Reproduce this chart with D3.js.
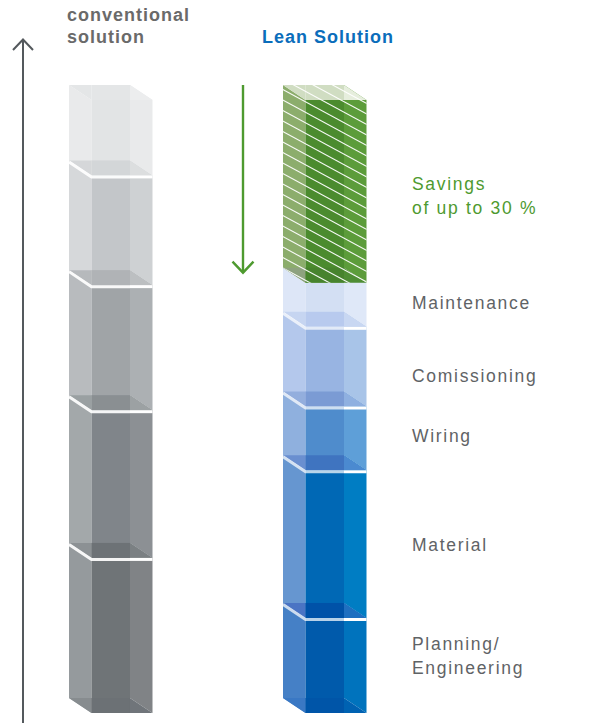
<!DOCTYPE html>
<html><head><meta charset="utf-8">
<script src="https://cdn.jsdelivr.net/npm/d3@7"></script>
<style>html,body{margin:0;padding:0;background:#fff;} svg{display:block;}</style>
</head><body>
<script>
// ---------- data ----------
const barNames = ["conventional solution", "Lean Solution"];
const categories = ["Planning/Engineering", "Material", "Wiring", "Comissioning", "Maintenance"];
const categoryLabels = [["Planning/", "Engineering"], ["Material"], ["Wiring"], ["Comissioning"], ["Maintenance"]];
const conventionalValues = [25.3, 24.1, 20.4, 17.9, 12.3];
const leanValues = [15.5, 24.1, 10.4, 13.0, 7.2];
const savingsValue = 29.8;
const savingsLabel = ["Savings", "of up to 30 %"];
const titleConventional = ["conventional", "solution"];
const titleLean = ["Lean Solution"];

// ---------- styles (bottom to top) ----------
const convFaces = [
  {L:"#959a9d", M:"#6f7477", R:"#808386"},
  {L:"#a3a8aa", M:"#80858a", R:"#8c9094"},
  {L:"#b8bbbe", M:"#a0a4a7", R:"#acb0b3"},
  {L:"#d6d8da", M:"#c3c6c9", R:"#ced1d3"},
  {L:"#e9eaeb", M:"#e2e4e5", R:"#e9eaeb"}
];
const convCaps = [
  {L:"#878c8f", M:"#6c7175", R:"#70757a", line:false},
  {L:"#8c9194", M:"#6d7276", R:"#7b8083", line:true},
  {L:"#9aa0a2", M:"#8a8f92", R:"#9ca1a3", line:true},
  {L:"#b6b9bc", M:"#b0b3b6", R:"#bcbfc1", line:true},
  {L:"#d5d7d9", M:"#d3d6d8", R:"#dcdedf", line:true},
  {L:"#e4e6e7", M:"#e4e6e7", R:"#ecedee", line:false}
];
const leanFaces = [
  {L:"#4580c6", M:"#005aab", R:"#0073bd"},
  {L:"#6696d0", M:"#0068b5", R:"#007dc3"},
  {L:"#8fb0de", M:"#4f8ccc", R:"#5e9fd8"},
  {L:"#b4c8ec", M:"#98b4e2", R:"#a8c4e8"},
  {L:"#dde6f7", M:"#d3dff3", R:"#dfe8f8"},
  {L:"#8cad6c", M:"#4b8b2e", R:"#5c9c3a"}
];
const leanCaps = [
  {L:"#3a78c4", M:"#0055a8", R:"#0062b2", line:false},
  {L:"#4a74c4", M:"#0052a8", R:"#1f6fc0", line:true},
  {L:"#6a8fd0", M:"#3f74c0", R:"#4b8ad0", line:true},
  {L:"#93aedd", M:"#7b9bd4", R:"#8fb0e0", line:true},
  {L:"#c6d5f1", M:"#b8caee", R:"#c8d7f2", line:true},
  {L:"#8ea27f", M:"#47832d", R:"#4e8d34", line:false},
  {L:"#d0ddc2", M:"#d0ddc2", R:"#e6eedd", line:false}
];

const W = 601, H = 723;
const DX = 22.5, DY = 15;
const FONT = "'Liberation Sans', Arial, Helvetica, sans-serif";

const svg = d3.select("body").append("svg").attr("width", W).attr("height", H);

const x = d3.scaleBand().domain(barNames).range([69, 344]).paddingInner(0.715).paddingOuter(0);
const y = d3.scaleLinear().domain([0, 100]).range([698, 85]);

function stack(values) {
  let c = 0;
  return values.map(v => { const s = {lo: c, hi: c + v}; c += v; return s; });
}

function drawBar(name, values, faces, caps, lineOpacity) {
  const g = svg.append("g");
  const x0 = x(name), x1 = x0 + x.bandwidth();
  const segs = stack(values);
  segs.forEach((s, i) => {
    const yt = y(s.hi), yb = y(s.lo), f = faces[i];
    g.append("path").attr("fill", f.L)
      .attr("d", `M${x0},${yt}L${x0+DX},${yt+DY}L${x0+DX},${yb+DY}L${x0},${yb}Z`);
    g.append("path").attr("fill", f.R)
      .attr("d", `M${x1},${yt}L${x1+DX},${yt+DY}L${x1+DX},${yb+DY}L${x1},${yb}Z`);
    g.append("rect").attr("fill", f.M)
      .attr("x", x0 + DX).attr("y", yt + DY).attr("width", x1 - x0 - DX).attr("height", yb - yt);
  });
  const bounds = [segs[0].lo].concat(segs.map(s => s.hi));
  bounds.forEach((b, i) => {
    const yc = y(b), c = caps[i];
    g.append("path").attr("fill", c.L)
      .attr("d", `M${x0},${yc}L${x0+DX},${yc}L${x0+DX},${yc+DY}Z`);
    g.append("rect").attr("fill", c.M)
      .attr("x", x0 + DX).attr("y", yc).attr("width", x1 - x0 - DX).attr("height", DY);
    g.append("path").attr("fill", c.R)
      .attr("d", `M${x1},${yc}L${x1+DX},${yc+DY}L${x1},${yc+DY}Z`);
  });
  bounds.forEach((b, i) => {
    if (!caps[i].line) return;
    const yc = y(b) + 1.5;
    g.append("path").attr("fill", "none").attr("stroke", "#fff").attr("stroke-width", 3)
      .attr("stroke-opacity", lineOpacity)
      .attr("d", `M${x0},${yc}L${x0+DX},${yc+DY}L${x1},${yc+DY}`);
    g.append("path").attr("fill", "none").attr("stroke", "#fff").attr("stroke-width", 3)
      .attr("d", `M${x1},${yc+DY}L${x1+DX},${yc+DY}`);
  });
  return {g, x0, x1, segs};
}

// conventional
drawBar(barNames[0], conventionalValues, convFaces, convCaps, 0.92);

// lean with savings on top
const leanAll = leanValues.concat([savingsValue]);
const lean = drawBar(barNames[1], leanAll, leanFaces, leanCaps, 0.72);

// hatch on savings
{
  const s = lean.segs[lean.segs.length - 1];
  const x0 = lean.x0, x1 = lean.x1, yt = y(s.hi), yb = y(s.lo);
  svg.append("clipPath").attr("id", "savclip").append("path")
    .attr("d", `M${x0},${yt}L${x1},${yt}L${x1+DX},${yt+DY}L${x1+DX},${yb+DY}L${x0+DX},${yb+DY}L${x0},${yb}Z`);
  const hg = svg.append("g").attr("clip-path", "url(#savclip)");
  const slope = 0.54, step = 10.5, span = (x1 + DX) - x0 + 10;
  for (let k = -10; k < 30; k++) {
    const ys = yt + 2 + k * step;
    hg.append("line").attr("x1", x0 - 5).attr("y1", ys).attr("x2", x0 - 5 + span).attr("y2", ys + slope * span)
      .attr("stroke", "#fff").attr("stroke-width", 1.1).attr("stroke-opacity", 0.95);
  }
}

// left axis arrow
const axisColor = "#54595d";
svg.append("line").attr("x1", 23).attr("x2", 23).attr("y1", H).attr("y2", 39)
  .attr("stroke", axisColor).attr("stroke-width", 2);
svg.append("path").attr("fill", "none").attr("stroke", axisColor).attr("stroke-width", 2)
  .attr("d", "M13,50L23,39.5L33,50");

// green savings arrow
const green = "#4e9a2f";
{
  const top = y(100), bot = y(100 - savingsValue) + 5;
  const ax = 243;
  svg.append("line").attr("x1", ax).attr("x2", ax).attr("y1", top).attr("y2", bot)
    .attr("stroke", green).attr("stroke-width", 2.4);
  svg.append("path").attr("fill", "none").attr("stroke", green).attr("stroke-width", 2.4)
    .attr("d", `M${ax-10.5},${bot-11}L${ax},${bot}L${ax+10.5},${bot-11}`);
}

// titles
const tc = svg.append("text").attr("x", 67).attr("y", 21).attr("fill", "#6a6a6a")
  .attr("font-family", FONT).attr("font-weight", "bold").attr("font-size", 18).attr("letter-spacing", "1px");
titleConventional.forEach((t, i) => tc.append("tspan").attr("x", 67).attr("dy", i ? 22 : 0).text(t));
svg.append("text").attr("x", 262).attr("y", 43).attr("fill", "#0b6dbb")
  .attr("font-family", FONT).attr("font-weight", "bold").attr("font-size", 18).attr("letter-spacing", "1px")
  .text(titleLean[0]);

// labels
const labelX = 412;
const labelColor = "#5f6366";
const allLabels = categoryLabels.concat([savingsLabel]);
const nudges = [-9.5, 1, -2, 9, -2, 4.5];
lean.segs.forEach((s, i) => {
  const cy = (y(s.hi) + y(s.lo)) / 2 + DY;
  const lines = allLabels[i];
  const first = cy - (lines.length - 1) * 12 + 6 + nudges[i];
  const t = svg.append("text").attr("x", labelX).attr("y", first)
    .attr("fill", i === lean.segs.length - 1 ? green : labelColor)
    .attr("font-family", FONT).attr("font-size", 17.5).attr("letter-spacing", "1.7px");
  lines.forEach((l, j) => t.append("tspan").attr("x", labelX).attr("dy", j ? 24 : 0).text(l));
});
</script>
</body></html>
